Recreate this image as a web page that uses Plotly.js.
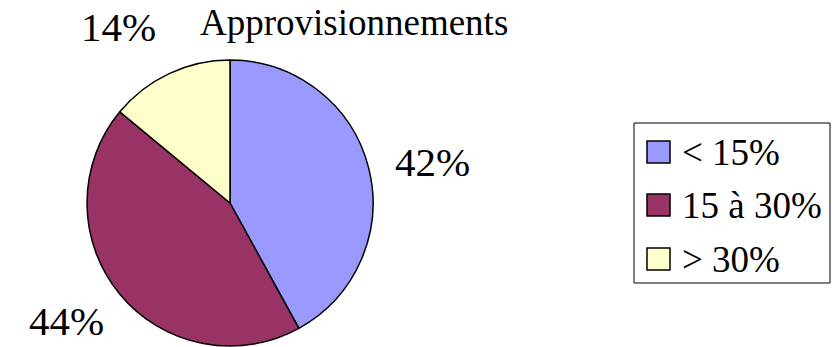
<!DOCTYPE html>
<html>
<head>
<meta charset="utf-8">
<script src="https://cdn.plot.ly/plotly-3.0.1.min.js"></script>
<style>
html,body{margin:0;padding:0;background:#fff;}
#chart{width:838px;height:347px;}
</style>
</head>
<body>
<div id="chart"></div>
<script>
// Data
var categories = ["< 15%", "15 à 30%", "> 30%"];
var values = [42, 44, 14];
var colors = ["#9999FF", "#993366", "#FFFFCC"];
var chartTitle = "Approvisionnements";

var FONT = "'Liberation Serif', 'Times New Roman', serif";
var W = 838, H = 347;
function px(x){ return x / W; }
function py(y){ return 1 - y / H; }

var total = values.reduce(function(a,b){return a+b;},0);
var pctText = values.map(function(v){ return Math.round(v/total*100) + "%"; });

var trace = {
  type: "pie",
  labels: categories,
  values: values,
  sort: false,
  direction: "clockwise",
  rotation: 0,
  textinfo: "none",
  hoverinfo: "none",
  showlegend: false,
  marker: { colors: colors, line: { color: "#000000", width: 1.5 } },
  domain: { x: [px(86), px(374)], y: [py(346), py(60)] }
};

// Percentage label positions (layout)
var labelPos = [[432, 162], [66, 321], [118, 27]];
var annotations = [];
pctText.forEach(function(t, i){
  annotations.push({
    xref: "paper", yref: "paper",
    x: px(labelPos[i][0]), y: py(labelPos[i][1]),
    xanchor: "center", yanchor: "middle",
    text: t, showarrow: false,
    font: { family: FONT, size: 41, color: "#000" }
  });
});

// Custom legend
var shapes = [{
  type: "rect", xref: "paper", yref: "paper",
  x0: px(634), x1: px(830), y0: py(283), y1: py(123),
  line: { color: "#000", width: 1 }, fillcolor: "rgba(0,0,0,0)"
}];
var legendY = [152, 205, 259];
categories.forEach(function(c, i){
  var cy = legendY[i];
  shapes.push({
    type: "rect", xref: "paper", yref: "paper",
    x0: px(647), x1: px(670), y0: py(cy + 11), y1: py(cy - 11),
    line: { color: "#000", width: 1.5 }, fillcolor: colors[i]
  });
  annotations.push({
    xref: "paper", yref: "paper",
    x: px(680), y: py(cy),
    xanchor: "left", yanchor: "middle",
    text: c, showarrow: false,
    font: { family: FONT, size: 37, color: "#000" }
  });
});

// Title
annotations.push({
  xref: "paper", yref: "paper",
  x: px(354), y: py(22),
  xanchor: "center", yanchor: "middle",
  text: chartTitle, showarrow: false,
  font: { family: FONT, size: 37, color: "#000" }
});

var layout = {
  width: W, height: H,
  margin: { l: 0, r: 0, t: 0, b: 0 },
  paper_bgcolor: "#ffffff",
  plot_bgcolor: "#ffffff",
  showlegend: false,
  annotations: annotations,
  shapes: shapes
};

Plotly.newPlot("chart", [trace], layout, { staticPlot: true, displayModeBar: false });
</script>
</body>
</html>
